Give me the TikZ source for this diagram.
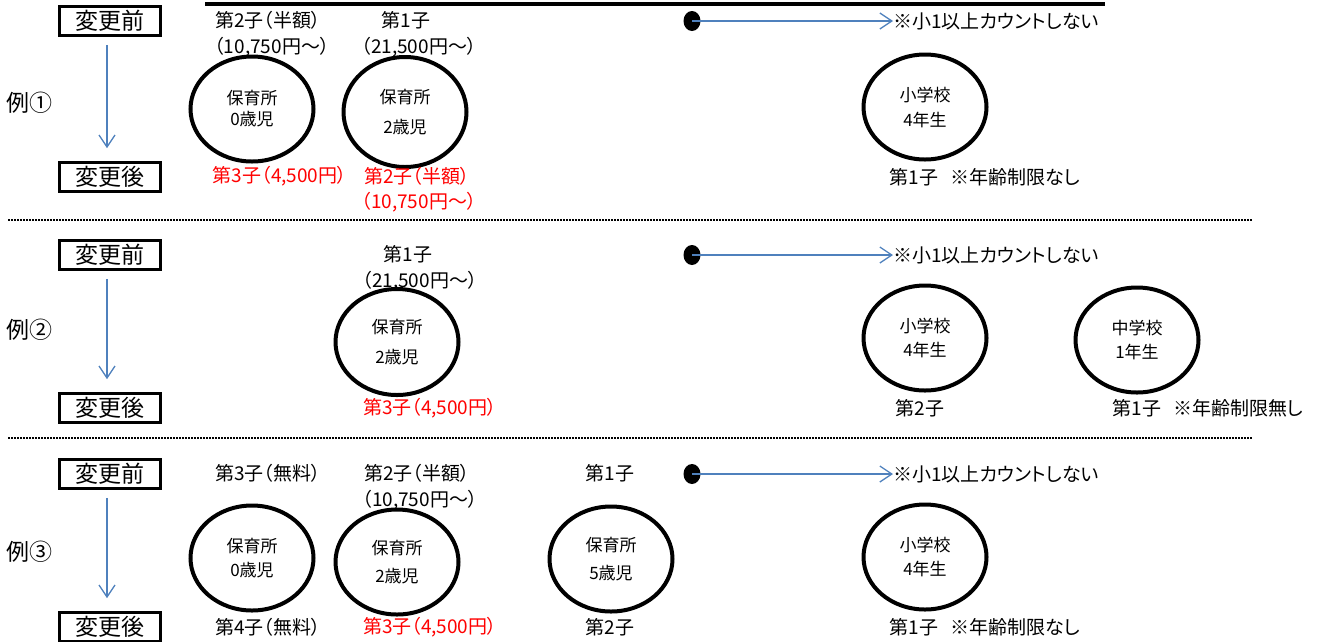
\documentclass[tikz,border=0pt]{standalone}
\usepackage{fontspec}
\setmainfont[RawFeature=+palt]{Noto Sans CJK JP}
\usetikzlibrary{arrows.meta,shapes.geometric}
\definecolor{flowblue}{RGB}{79,129,189}
\begin{document}
\begin{tikzpicture}[x=1pt,y=-1pt,
  lbl/.style={font=\fontsize{19}{21}\selectfont, inner sep=0pt, anchor=center},
  redlbl/.style={lbl, text=red},
  stagebox/.style={draw, line width=2.6pt, minimum width=101pt, minimum height=29pt, inner sep=0pt, font=\fontsize{23}{25}\selectfont},
  exlbl/.style={font=\fontsize{23}{25}\selectfont, inner sep=0pt},
  kid/.style={draw, ellipse, line width=4pt, minimum width=123pt, minimum height=105pt, inner sep=0pt, align=center},
  kidtext/.style={font=\fontsize{17}{#1}\selectfont},
  flow/.style={draw=flowblue, line width=1.3pt, -{Straight Barb[length=12pt,width=16pt,line width=1.3pt]}},
  blackdot/.style={ellipse, fill=black, minimum width=17pt, minimum height=20pt, inner sep=0pt},
  notelbl/.style={font=\fontsize{19}{21}\selectfont, inner sep=0pt, anchor=west},
  sep/.style={line width=1.8pt, dash pattern=on 2pt off 1pt}
]
\useasboundingbox (0,0) rectangle (1319,641);

% top cut line
\coordinate (topL) at (205,4);
\coordinate (topR) at (1105,4);
\draw[line width=3.5pt] (topL) -- (topR);

% separators
\coordinate (s1L) at (8,220); \coordinate (s1R) at (1252,220);
\coordinate (s2L) at (8,438); \coordinate (s2R) at (1252,438);
\draw[sep] (s1L) -- (s1R);
\draw[sep] (s2L) -- (s2R);

% ================= Example 1 =================
\node[stagebox] (before1) at (110,21) {変更前};
\node[stagebox] (after1) at (110,177) {変更後};
\node[exlbl] (ex1) at (29,103) {例①};
\draw[flow, shorten <=8pt, shorten >=13pt] ([xshift=-3pt]before1.south) -- ([xshift=-3pt]after1.north);

\node[lbl] (t1a) at (268,20) {第2子（半額）};
\node[lbl] (t1b) at (272,47) {（10,750円～）};
\node[lbl] (t1c) at (406,20) {第1子};
\node[lbl] (t1d) at (419,47) {（21,500円～）};

\node[kid, kidtext=21] (e1a) at (252,109) {保育所\\0歳児};
\node[kid, kidtext=30, minimum height=110pt] (e1b) at (405,112) {保育所\\2歳児};
\node[kid, kidtext=25] (e1c) at (925,107) {小学校\\4年生};

\node[redlbl] (r1a) at (280,176) {第3子（4,500円）};
\node[redlbl] (r1b) at (417,176) {第2子（半額）};
\node[redlbl] (r1c) at (419,202) {（10,750円～）};

\node[blackdot] (dot1) at (692,21) {};
\node[notelbl] (note1) at (893,21) {※小1以上カウントしない};
\draw[flow] (dot1.center) -- (note1.west);

\node[lbl] (n1) at (985,177) {第1子\hspace{12pt}※年齢制限なし};

% ================= Example 2 =================
\node[stagebox] (before2) at (110,255) {変更前};
\node[stagebox] (after2) at (110,408) {変更後};
\node[exlbl] (ex2) at (29,330) {例②};
\draw[flow, shorten <=8pt, shorten >=13pt] ([xshift=-3pt]before2.south) -- ([xshift=-3pt]after2.north);

\node[lbl] (t2c) at (408,254) {第1子};
\node[lbl] (t2d) at (420,281) {（21,500円～）};

\node[kid, kidtext=30, minimum height=106pt] (e2b) at (397,342) {保育所\\2歳児};
\node[kid, kidtext=24] (e2c) at (925,338) {小学校\\4年生};
\node[kid, kidtext=24] (e2d) at (1137,340) {中学校\\1年生};

\node[redlbl] (r2) at (430,408) {第3子（4,500円）};

\node[blackdot] (dot2) at (692,255) {};
\node[notelbl] (note2) at (893,255) {※小1以上カウントしない};
\draw[flow] (dot2.center) -- (note2.west);

\node[lbl] (n2a) at (920,408) {第2子};
\node[lbl] (n2b) at (1208,408) {第1子\hspace{12pt}※年齢制限無し};

% ================= Example 3 =================
\node[stagebox] (before3) at (110,474) {変更前};
\node[stagebox] (after3) at (110,627) {変更後};
\node[exlbl] (ex3) at (29,552) {例③};
\draw[flow, shorten <=8pt, shorten >=13pt] ([xshift=-3pt]before3.south) -- ([xshift=-3pt]after3.north);

\node[lbl] (t3a) at (268,473) {第3子（無料）};
\node[lbl] (t3b) at (417,473) {第2子（半額）};
\node[lbl] (t3c) at (420,500) {（10,750円～）};
\node[lbl] (t3d) at (610,473) {第1子};

\node[kid, kidtext=24] (e3a) at (252,558) {保育所\\0歳児};
\node[kid, kidtext=28] (e3b) at (397,562) {保育所\\2歳児};
\node[kid, kidtext=28] (e3e) at (611,559) {保育所\\5歳児};
\node[kid, kidtext=24] (e3c) at (925,557) {小学校\\4年生};

\node[lbl] (b3a) at (268,627) {第4子（無料）};
\node[redlbl] (r3) at (430,627) {第3子（4,500円）};
\node[lbl] (b3e) at (610,627) {第2子};
\node[lbl] (n3) at (985,627) {第1子\hspace{12pt}※年齢制限なし};

\node[blackdot] (dot3) at (692,474) {};
\node[notelbl] (note3) at (893,474) {※小1以上カウントしない};
\draw[flow] (dot3.center) -- (note3.west);
\end{tikzpicture}
\end{document}
